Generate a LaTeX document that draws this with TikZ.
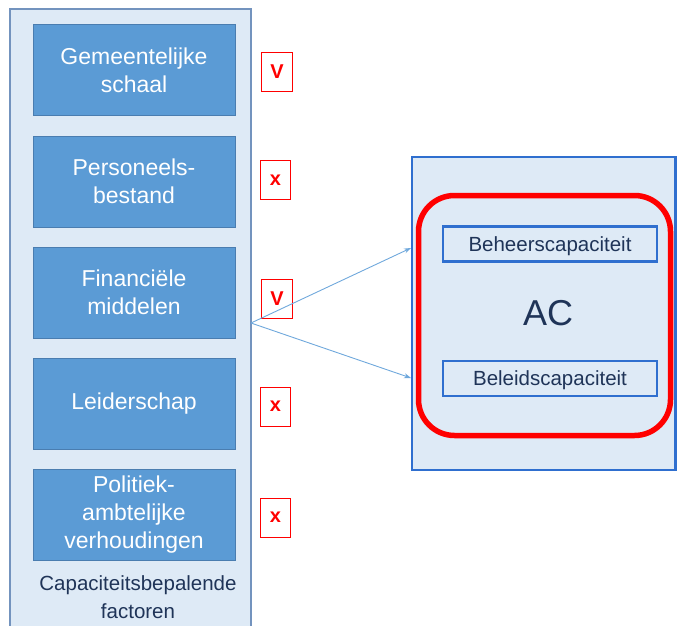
\documentclass[tikz,border=0pt]{standalone}
\usepackage{fontspec}
\setmainfont{Liberation Sans}
\usetikzlibrary{arrows.meta}
\definecolor{panelfill}{HTML}{DEEAF6}
\definecolor{panelline}{HTML}{7393BE}
\definecolor{boxfill}{HTML}{5B9BD5}
\definecolor{boxline}{HTML}{4A7DB0}
\definecolor{brightblue}{HTML}{2F6FCF}
\definecolor{navy}{HTML}{1F3458}
\definecolor{arrowblue}{HTML}{6FA8DC}
\tikzset{
  factor/.style={draw=boxline, line width=0.9pt, fill=boxfill, minimum width=202pt, minimum height=91pt,
    text=white, align=center, inner sep=0pt, font=\fontsize{23}{28}\selectfont},
  markbox/.style={draw=red, line width=1pt, fill=white, minimum width=30pt, minimum height=39pt,
    inner sep=0pt, text=red, font=\fontsize{20}{24}\selectfont\bfseries},
  capbox/.style={draw=brightblue, line width=2.8pt, minimum width=214pt, minimum height=35pt,
    inner sep=0pt, text=navy, text depth=0pt, font=\fontsize{20.5}{24}\selectfont},
  link/.style={draw=arrowblue, line width=0.9pt, -{Stealth[length=7pt,width=5pt]}}
}
\begin{document}
\begin{tikzpicture}[x=1pt,y=-1pt]
\useasboundingbox (0,0) rectangle (677,626);
\begin{scope}
\clip (0,0) rectangle (677,626);
% left panel
\draw[panelline, line width=1.2pt, fill=panelfill] (10,9) rectangle (251,640);
% right panel
\draw[brightblue, line width=2.5pt, fill=panelfill] (412,157) rectangle (675.5,470);
\end{scope}
% factor boxes
\node[factor] (f1) at (134,70) {Gemeentelijke\\schaal};
\node[factor] (f2) at (134,181.5) {Personeels-\\bestand};
\node[factor] (f3) at (134,292.5) {Financiële\\middelen};
\node[factor] (f4) at (134,403.5) {Leiderschap};
\node[factor] (f5) at (134,515) {Politiek-\\ambtelijke\\verhoudingen};
\node[text=navy, align=center, font=\fontsize{20.5}{28}\selectfont] (cap) at (138,597) {Capaciteitsbepalende\\factoren};
% marks
\node[markbox, minimum width=31pt] (m1) at (277,72) {V};
\node[markbox] (m2) at (275.5,180) {x};
\node[markbox, minimum width=31pt] (m3) at (277,299) {V};
\node[markbox] (m4) at (275.5,406.5) {x};
\node[markbox] (m5) at (275.5,517.5) {x};
% red rounded frame
\draw[red, line width=5.5pt, rounded corners=36pt] (418.5,195.5) rectangle (670.5,435.5);
% capacity boxes
\node[capbox] (beheer) at (550,244) {Beheerscapaciteit};
\node[capbox] (beleid) at (550,378.5) {Beleidscapaciteit};
\node[text=navy, font=\fontsize{36}{40}\selectfont] (ac) at (548,313) {AC};
% arrows
\coordinate (src) at (251,323);
\coordinate (t1) at (411,248);
\coordinate (t2) at (411,378);
\draw[link] (src) -- (t1);
\draw[link] (src) -- (t2);
\end{tikzpicture}
\end{document}
